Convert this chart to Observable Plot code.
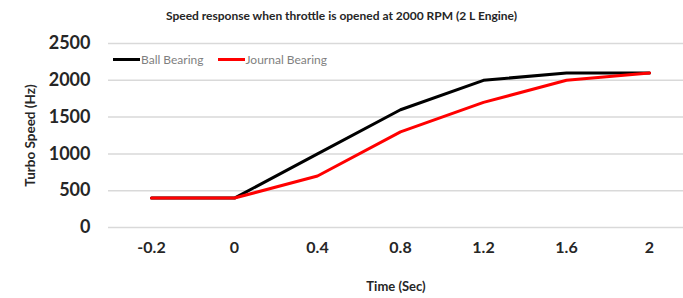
<!DOCTYPE html>
<html>
<head>
<meta charset="utf-8">
<script src="https://cdn.jsdelivr.net/npm/d3@7"></script>
<script src="https://cdn.jsdelivr.net/npm/@observablehq/plot@0.6"></script>
<style>
  html, body { margin: 0; padding: 0; background: #fff; }
  #wrap { position: relative; width: 683px; height: 298px; font-family: Lato, "Open Sans", sans-serif; }
  #title { position: absolute; top: 8px; left: 0; width: 683px; text-align: center; font-size: 12px; font-weight: bold; color: #262626; }
  #legend { position: absolute; top: 52px; left: 113px; font-size: 12px; color: #7f7f7f; display: flex; align-items: center; }
  .item { display: flex; align-items: center; margin-right: 14px; }
  .swatch { display: inline-block; width: 27px; height: 3px; margin-right: 1px; }
  #chart { position: absolute; top: 30px; left: 0; }
</style>
</head>
<body>
<div id="wrap">
  <div id="title">Speed response when throttle is opened at 2000 RPM (2 L Engine)</div>
  <div id="chart"></div>
  <div id="legend"></div>
</div>
<script>
const times = ["-0.2", "0", "0.4", "0.8", "1.2", "1.6", "2"];
const ballBearing = [400, 400, 1000, 1600, 2000, 2100, 2100];
const journalBearing = [400, 400, 700, 1300, 1700, 2000, 2100];
const seriesNames = ["Ball Bearing", "Journal Bearing"];
const seriesColors = ["#000000", "#ff0000"];
const yTicks = [0, 500, 1000, 1500, 2000, 2500];

const data = [];
times.forEach((t, i) => data.push({time: t, speed: ballBearing[i], series: seriesNames[0]}));
times.forEach((t, i) => data.push({time: t, speed: journalBearing[i], series: seriesNames[1]}));

const plot = Plot.plot({
  width: 683,
  height: 268,
  marginTop: 13,
  marginBottom: 71,
  marginLeft: 108,
  marginRight: 0,
  style: {fontFamily: "Lato, 'Open Sans', sans-serif", background: "transparent"},
  x: {type: "point", domain: times, range: [150, 650], padding: 0, label: null},
  y: {domain: [0, 2500], ticks: yTicks, label: null},
  color: {domain: seriesNames, range: seriesColors},
  marks: [
    Plot.ruleY(yTicks, {stroke: "#d9d9d9", strokeWidth: 1.5}),
    Plot.axisY({ticks: yTicks, tickFormat: d3.format("d"), tickSize: 0, tickPadding: 18, fontSize: 18, fontWeight: "bold", fill: "#262626", label: null}),
    Plot.axisX({tickSize: 0, tickPadding: 14, fontSize: 16, fontWeight: "bold", fill: "#262626", label: null}),
    Plot.lineY(data, {x: "time", y: "speed", stroke: "series", z: "series", strokeWidth: 3, strokeLinejoin: "round"}),
    Plot.text(["Turbo Speed (Hz)"], {frameAnchor: "left", textAnchor: "middle", dx: -78, rotate: -90, fontSize: 13.5, fontWeight: "bold", fill: "#262626"}),
    Plot.text(["Time (Sec)"], {frameAnchor: "bottom", dy: 63, fontSize: 13, fontWeight: "bold", fill: "#262626"})
  ]
});
document.getElementById("chart").appendChild(plot);

const legend = document.getElementById("legend");
seriesNames.forEach((name, i) => {
  const item = document.createElement("div");
  item.className = "item";
  const sw = document.createElement("span");
  sw.className = "swatch";
  sw.style.background = seriesColors[i];
  item.appendChild(sw);
  item.appendChild(document.createTextNode(name));
  legend.appendChild(item);
});
</script>
</body>
</html>
